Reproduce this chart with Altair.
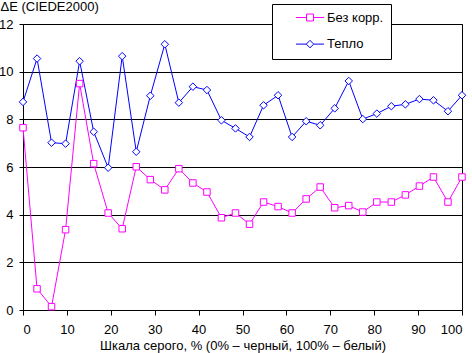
import altair as alt
import pandas as pd

# x positions (grey-scale %), 32 steps
x_vals = [0, 3.2, 6.5, 9.7, 12.9, 16.1, 19.4, 22.6, 25.8, 29.0, 32.3, 35.5, 38.7, 41.9, 45.2, 48.4,
          51.6, 54.8, 58.1, 61.3, 64.5, 67.7, 71.0, 74.2, 77.4, 80.6, 83.9, 87.1, 90.3, 93.5, 96.8, 100]
bez_korr = [7.65, 0.89, 0.14, 3.37, 9.5, 6.14, 4.07, 3.41, 6.01, 5.47, 5.04, 5.93, 5.33, 4.95, 3.87, 4.07,
            3.6, 4.53, 4.34, 4.07, 4.66, 5.16, 4.29, 4.38, 4.11, 4.53, 4.53, 4.83, 5.2, 5.58, 4.53, 5.58]
teplo = [8.73, 10.55, 7.02, 6.98, 10.44, 7.48, 5.97, 10.65, 6.64, 8.99, 11.15, 8.7, 9.37, 9.23, 7.96, 7.62,
         7.26, 8.59, 9.01, 7.26, 7.92, 7.75, 8.46, 9.61, 8.01, 8.24, 8.55, 8.63, 8.85, 8.8, 8.34, 9.01]
series_names = ["Без корр.", "Тепло"]
series_colors = ["#FF00FF", "#0000FF"]
x_ticks = [0, 10, 20, 30, 40, 50, 60, 70, 80, 90, 100]
y_ticks = [0, 2, 4, 6, 8, 10, 12]

FONT = "Liberation Sans"

df = pd.DataFrame({
    "x": x_vals + x_vals,
    "y": bez_korr + teplo,
    "s": [series_names[0]] * len(x_vals) + [series_names[1]] * len(x_vals),
})

color_scale = alt.Scale(domain=series_names, range=series_colors)

x_enc = alt.X("x:Q", scale=alt.Scale(domain=[0, 100], nice=False),
              axis=alt.Axis(values=x_ticks, grid=False, domain=False, tickSize=5, tickColor="black",
                            labelPadding=8, labelFont=FONT, labelFontSize=13, labelColor="black",
                            title="Шкала серого, % (0% – черный, 100% – белый)",
                            titleFont=FONT, titleFontSize=13, titleFontWeight="normal", titleColor="black",
                            titleX=219.5, titleY=39, titleAlign="center", titleBaseline="alphabetic"))
y_enc = alt.Y("y:Q", scale=alt.Scale(domain=[0, 12], nice=False),
              axis=alt.Axis(values=y_ticks, grid=True, gridColor="black", gridOpacity=1, gridWidth=1,
                            domain=False, tickSize=4, tickColor="black", labelPadding=6,
                            labelFont=FONT, labelFontSize=13, labelColor="black",
                            title="ΔE (CIEDE2000)", titleFont=FONT, titleFontSize=13,
                            titleFontWeight="normal", titleColor="black", titleAngle=0,
                            titleX=-23, titleY=-14, titleAlign="left", titleBaseline="alphabetic"))

base = alt.Chart(df)

layers = []
for name, col in zip(series_names, series_colors):
    sub = base.transform_filter(alt.datum.s == name)
    layers.append(sub.mark_line(strokeWidth=1, color=col).encode(x=x_enc, y=y_enc, order="x:Q"))
for name, col, shp, sz in [(series_names[0], series_colors[0], "square", 42),
                           (series_names[1], series_colors[1], "diamond", 56)]:
    sub = base.transform_filter(alt.datum.s == name)
    layers.append(sub.mark_point(shape=shp, size=sz, filled=False, fill="white", stroke=col,
                                 opacity=1, strokeWidth=1).encode(x="x:Q", y="y:Q"))

# legend symbols: a line with a hollow marker in the middle (unit = 6 px), shifted right
legend_paths = [
    "M1.75,0L3.5,0M4.67,0L6.42,0M3.5,-0.58L4.67,-0.58L4.67,0.58L3.5,0.58Z",
    "M1.75,0L3.46,0M4.71,0L6.42,0M3.46,0L4.08,-0.62L4.71,0L4.08,0.62Z",
]

leg = alt.Legend(title=None, orient="none", legendX=249, legendY=-20,
                 fillColor="white", strokeColor="black", padding=7,
                 symbolSize=144, symbolStrokeWidth=1, symbolOffset=0,
                 labelOffset=35, rowPadding=12.6,
                 labelFont=FONT, labelFontSize=13, labelColor="black",
                 labelExpr="datum.label + '\u00a0\u00a0\u00a0\u00a0\u00a0'")

legend_layer = base.mark_point(filled=False, fill="white", opacity=1, strokeWidth=1, size=0).encode(
    x="x:Q", y="y:Q",
    color=alt.Color("s:N", scale=color_scale, legend=leg),
    shape=alt.Shape("s:N", scale=alt.Scale(domain=series_names, range=legend_paths), legend=leg))
layers.append(legend_layer)

chart = alt.layer(*layers).properties(
    width=439, height=286,
    autosize=alt.AutoSizeParams(type="none"),
    padding={"left": 23, "top": 24, "right": 10, "bottom": 43},
    background="white",
).configure_view(stroke="black", strokeWidth=1)

chart.save("out.html", embed_options={"renderer": "svg", "actions": False})
